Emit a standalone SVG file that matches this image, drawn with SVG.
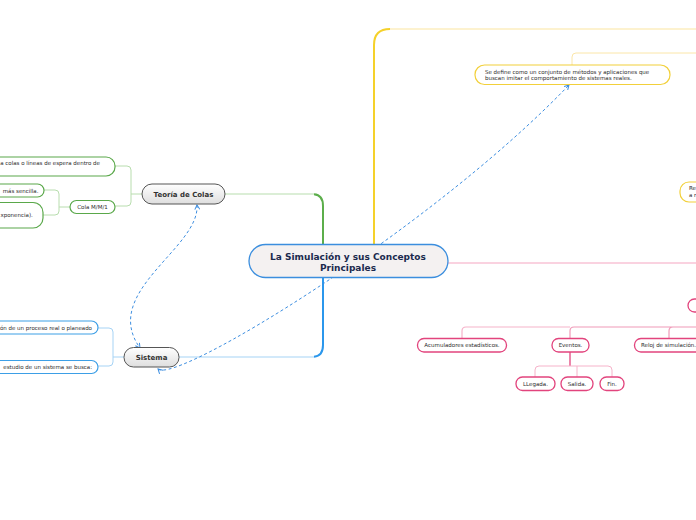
<svg xmlns="http://www.w3.org/2000/svg" width="696" height="520" viewBox="0 0 696 520">
<defs>
<linearGradient id="gMain" x1="0" y1="0" x2="0" y2="1">
<stop offset="0" stop-color="#ffffff"/>
<stop offset="1" stop-color="#dedede"/>
</linearGradient>
<marker id="arr" viewBox="0 0 6 6" refX="5" refY="3" markerWidth="6" markerHeight="6" orient="auto-start-reverse" markerUnits="userSpaceOnUse">
<path d="M0.5,0.5 L5,3 L0.5,5.5" fill="none" stroke="#3d8ee0" stroke-width="1"/>
</marker>
<style>
text{font-family:"DejaVu Sans","Verdana",sans-serif;fill:#2b2b2b;}
.small{font-size:5.5px;}
.title{font-size:7px;font-weight:bold;fill:#333;}
.central{font-size:9px;font-weight:bold;fill:#1b2a4e;}
.main{fill:url(#gMain);stroke:#555;stroke-width:1;}
.gn{fill:#fff;stroke:#5aa84a;stroke-width:1.2;}
.bn{fill:#fff;stroke:#3d9fe6;stroke-width:1.2;}
.yn{fill:#fff;stroke:#f2d03a;stroke-width:1.2;}
.pn{fill:#fff;stroke:#e2447d;stroke-width:1.3;}
.line{fill:none;}
.rel{fill:none;stroke:#3d8ee0;stroke-width:1;stroke-dasharray:3 2.5;}
</style>
</defs>
<rect width="696" height="520" fill="#ffffff"/>
<g id="connectors">
<path class="line" d="M323,244 V206 Q323,195 314,194.3" stroke="#5cae4b" stroke-width="2"/>
<path class="line" d="M314,194 H225" stroke="#b8ddae" stroke-width="1.2"/>
<path class="line" d="M323,277 V345 Q323,356 314,356.7" stroke="#2b97ec" stroke-width="2"/>
<path class="line" d="M314,357 H179" stroke="#a6d3f5" stroke-width="1.2"/>
<path class="line" d="M374,244 V45 Q374,29 390,29" stroke="#f5d12a" stroke-width="2"/>
<path class="line" d="M390,29 H696" stroke="#fbe6a0" stroke-width="1.2"/>
<path class="line" d="M572,65 V57 Q572,53 576,53 H696" stroke="#fbe6a8" stroke-width="1"/>
<path class="line" d="M448,263 H696" stroke="#f6a6c1" stroke-width="1.2"/>
<path class="line" d="M115,166 H127 Q131,166 131,170 V202 Q131,206 127,206 H115 M131,194 H142" stroke="#b8ddae" stroke-width="1"/>
<path class="line" d="M44,190 H55 Q59,190 59,194 V211 Q59,215 55,215 H43 M59,207 H70" stroke="#b8ddae" stroke-width="1"/>
<path class="line" d="M98,328 H109 Q113,328 113,332 V362 Q113,366 109,366 H98 M113,357 H124" stroke="#a6d3f5" stroke-width="1"/>
<path class="line" d="M462,338 V331 Q462,327 466,327 H570" stroke="#f6b3ca" stroke-width="1.2"/>
<path class="line" d="M570,338 V331 Q570,327 574,327 H696 M669,338 V331 Q669,327 673,327" stroke="#f09ab8" stroke-width="1.2"/>
<path class="line" d="M570,352 V366" stroke="#e2447d" stroke-width="1.3"/>
<path class="line" d="M535,377 V370 Q535,366 539,366 H608 Q612,366 612,370 V377 M577,366 V377" stroke="#f6b3ca" stroke-width="1"/>
<path class="rel" d="M158,369 C175,385 430,230 569,85" marker-start="url(#arr)" marker-end="url(#arr)"/>
<path class="rel" d="M197,205 C200,248 100,292 140,348" marker-start="url(#arr)" marker-end="url(#arr)"/>
</g>
<g id="central">
<rect x="249" y="244.5" width="199" height="33" rx="16.5" fill="#f4f1f1" stroke="#3b8ede" stroke-width="1.3"/>
<text class="central" x="348" y="259.5" text-anchor="middle">La Simulación y sus Conceptos</text>
<text class="central" x="348" y="270.5" text-anchor="middle">Principales</text>
</g>
<g id="teoria">
<rect class="main" x="142" y="184" width="83" height="20" rx="10"/>
<text class="title" x="183.5" y="196.5" text-anchor="middle">Teoría de Colas</text>
</g>
<g id="colas-def">
<rect class="gn" x="-60" y="157" width="175" height="19" rx="9"/>
<text class="small" x="100" y="165" text-anchor="end">a colas o líneas de espera dentro de</text>
</g>
<g id="cola-mm1">
<rect class="gn" x="70" y="200.5" width="45" height="13" rx="6.5"/>
<text class="small" x="92.5" y="209" text-anchor="middle">Cola M/M/1</text>
</g>
<g id="mas-sencilla">
<rect class="gn" x="-30" y="184" width="74" height="13" rx="6.5"/>
<text class="small" x="38.5" y="192.5" text-anchor="end">más sencilla.</text>
</g>
<g id="exponencia">
<rect class="gn" x="-30" y="202.5" width="73" height="25.5" rx="10"/>
<text class="small" x="0.5" y="217">xponencia).</text>
</g>
<g id="sistema">
<rect class="main" x="124" y="347.5" width="55" height="19.5" rx="9.5"/>
<text class="title" x="151.5" y="359.8" text-anchor="middle">Sistema</text>
</g>
<g id="sistema-def1">
<rect class="bn" x="-60" y="321" width="158" height="13" rx="6.5"/>
<text class="small" x="92" y="329.5" text-anchor="end">ón de un proceso real o planeado</text>
</g>
<g id="sistema-def2">
<rect class="bn" x="-60" y="360.5" width="158" height="13" rx="6.5"/>
<text class="small" x="92" y="369" text-anchor="end">estudio de un sistema se busca:</text>
</g>
<g id="simulacion-def">
<rect class="yn" x="475" y="65" width="195" height="19.5" rx="9.5"/>
<text class="small" x="485" y="73.5">Se define como un conjunto de métodos y aplicaciones que</text>
<text class="small" x="485" y="80">buscan imitar el comportamiento de sistemas reales.</text>
</g>
<g id="yellow-right">
<rect class="yn" x="680" y="182" width="40" height="20" rx="9"/>
<text class="small" x="689" y="190">Re</text>
<text class="small" x="689" y="196.5">a r</text>
</g>
<g id="pink-right">
<rect class="pn" x="688" y="299" width="30" height="13" rx="6.5"/>
</g>
<g id="acumuladores">
<rect class="pn" x="417.5" y="338.5" width="89" height="13.5" rx="6.5"/>
<text class="small" x="462" y="347.3" text-anchor="middle">Acumuladores estadísticos.</text>
</g>
<g id="eventos">
<rect class="pn" x="552" y="338.5" width="37" height="13.5" rx="6.5"/>
<text class="small" x="570.5" y="347.3" text-anchor="middle">Eventos.</text>
</g>
<g id="reloj">
<rect class="pn" x="634.5" y="338.5" width="70" height="13.5" rx="6.5"/>
<text class="small" x="641" y="347.3">Reloj de simulación.</text>
</g>
<g id="llegada">
<rect class="pn" x="516" y="377" width="39" height="13.5" rx="6.5"/>
<text class="small" x="535.5" y="385.8" text-anchor="middle">LLegada.</text>
</g>
<g id="salida">
<rect class="pn" x="561" y="377" width="32" height="13.5" rx="6.5"/>
<text class="small" x="577" y="385.8" text-anchor="middle">Salida.</text>
</g>
<g id="fin">
<rect class="pn" x="600" y="377" width="24" height="13.5" rx="6.5"/>
<text class="small" x="612" y="385.8" text-anchor="middle">Fin.</text>
</g>
</svg>
